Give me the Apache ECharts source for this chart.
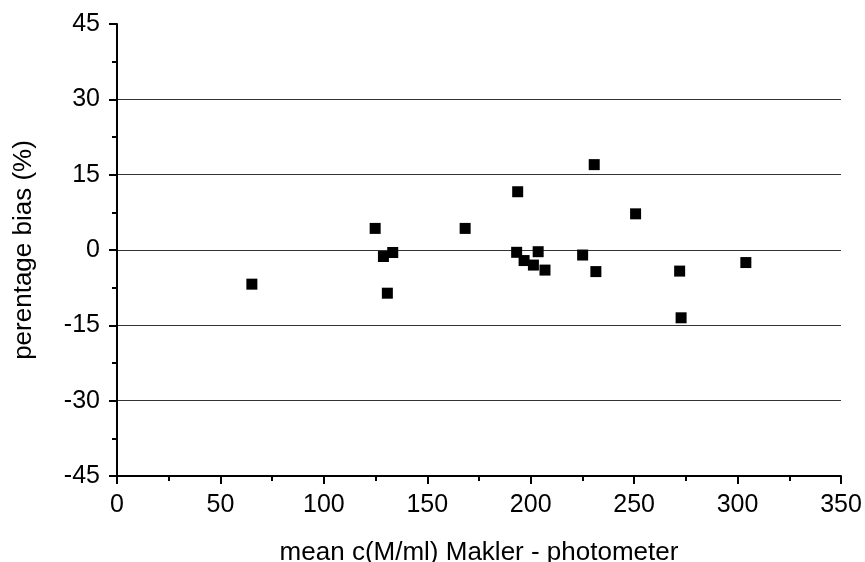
<!DOCTYPE html>
<html>
<head>
<meta charset="utf-8">
<script src="https://cdn.jsdelivr.net/npm/echarts@6/dist/echarts.min.js"></script>
<style>
html, body { margin: 0; padding: 0; background: #fff; }
#chart { width: 865px; height: 562px; }
</style>
</head>
<body>
<div id="chart"></div>
<script>
var meanConc = [65.2, 124.8, 128.8, 133.3, 130.7, 168.3, 193.2, 193.7, 196.8, 201.3, 203.6, 206.9, 225.1, 230.7, 231.5, 250.7, 272, 272.7, 304];
var biasPct  = [-6.8, 4.3, -1.3, -0.5, -8.6, 4.3, -0.46, 11.6, -2.1, -3.0, -0.34, -4.0, -1.0, 17.0, -4.3, 7.2, -4.2, -13.5, -2.5];
var xTicks = [0, 50, 100, 150, 200, 250, 300, 350];
var yTicks = [-45, -30, -15, 0, 15, 30, 45];

var chart = echarts.init(document.getElementById('chart'));

var font = 'Liberation Sans, Arial, sans-serif';

option = {
    animation: false,
    grid: { left: 117, right: 24, top: 24, bottom: 86, outerBoundsMode: 'none', containLabel: false },
    xAxis: {
        type: 'value',
        min: xTicks[0],
        max: xTicks[xTicks.length - 1],
        interval: 50,
        name: 'mean c(M/ml) Makler - photometer',
        nameLocation: 'middle',
        nameGap: 64,
        nameTextStyle: { fontSize: 26, color: '#000', fontFamily: font },
        axisLine: { show: true, onZero: false, lineStyle: { color: '#000', width: 2 } },
        axisTick: { show: true, inside: false, length: 8, lineStyle: { color: '#000', width: 2 } },
        minorTick: { show: true, splitNumber: 2, length: 5, lineStyle: { color: '#000', width: 2 } },
        axisLabel: { fontSize: 25, color: '#000', fontFamily: font, margin: 17 },
        splitLine: { show: false }
    },
    yAxis: {
        type: 'value',
        min: yTicks[0],
        max: yTicks[yTicks.length - 1],
        interval: 15,
        name: 'perentage bias (%)',
        nameLocation: 'middle',
        nameGap: 80,
        nameTextStyle: { fontSize: 26, color: '#000', fontFamily: font },
        axisLine: { show: true, onZero: false, lineStyle: { color: '#000', width: 2 } },
        axisTick: { show: true, inside: false, length: 8, lineStyle: { color: '#000', width: 2 } },
        minorTick: { show: true, splitNumber: 2, length: 5, lineStyle: { color: '#000', width: 2 } },
        axisLabel: { fontSize: 25, color: '#000', fontFamily: font, margin: 17 },
        splitLine: {
            show: true,
            showMinLine: false,
            showMaxLine: false,
            lineStyle: { color: '#333', width: 1 }
        }
    },
    series: [{
        type: 'scatter',
        symbol: 'rect',
        symbolSize: 11,
        itemStyle: { color: '#000', opacity: 1 },
        data: meanConc.map(function (x, i) { return [x, biasPct[i]]; })
    }]
};

chart.setOption(option);
window.addEventListener('resize', chart.resize);
</script>
</body>
</html>
